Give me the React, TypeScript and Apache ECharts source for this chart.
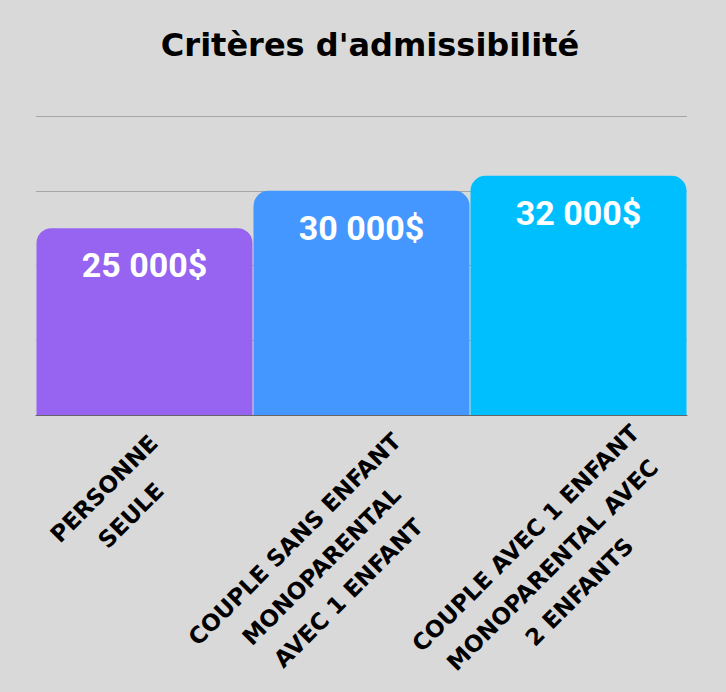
import React, { useEffect, useRef } from "react";
import * as echarts from "echarts";

const title = "Critères d'admissibilité";
const categories = [
  "PERSONNE\nSEULE",
  "COUPLE SANS ENFANT\nMONOPARENTAL\nAVEC 1 ENFANT",
  "COUPLE AVEC 1 ENFANT\nMONOPARENTAL AVEC\n2 ENFANTS",
];
const values = [25000, 30000, 32000];
const valueLabels = ["25 000$", "30 000$", "32 000$"];
const barColors = ["#9664F1", "#4497FF", "#00BFFF"];

// layout: centre of each rotated category label, relative to its tick on the baseline
const labelOffsets = [
  [-27, 87],
  [-40, 151],
  [-26, 150],
];

const SANS = "'DejaVu Sans', sans-serif";
const DIGITS = "Roboto, 'DejaVu Sans', sans-serif";

export default function App() {
  const ref = useRef<HTMLDivElement>(null);
  useEffect(() => {
    if (!ref.current) return;
    const chart = echarts.init(ref.current, undefined, { renderer: "svg" });
    chart.setOption({
      animation: false,
      backgroundColor: "#d9d9d9",
      title: {
        text: title,
        left: 365,
        textAlign: "center",
        top: 24,
        textStyle: { fontFamily: SANS, fontWeight: "bold", fontSize: 32, color: "#000" },
      },
      grid: {
        left: 36,
        right: 39,
        top: 116,
        bottom: 277,
        containLabel: false,
        outerBoundsMode: "none",
      },
      xAxis: {
        type: "category",
        data: categories,
        axisTick: { show: false },
        axisLine: { show: true, lineStyle: { color: "#666", width: 1 } },
        axisLabel: { show: false },
      },
      yAxis: {
        type: "value",
        min: 0,
        max: 40000,
        interval: 10000,
        axisLabel: { show: false },
        axisLine: { show: false },
        axisTick: { show: false },
        splitLine: { lineStyle: { color: "#a6a6a6", width: 1 } },
      },
      series: [
        {
          type: "bar",
          barWidth: 216,
          data: values.map((v, i) => ({
            value: v,
            itemStyle: { color: barColors[i], borderRadius: [15, 15, 0, 0] },
          })),
          label: {
            show: true,
            position: "insideTop",
            distance: 20,
            formatter: (p: any) => valueLabels[p.dataIndex],
            fontFamily: DIGITS,
            fontWeight: "bold",
            fontSize: 34,
            color: "#fff",
          },
        },
      ],
    });

    const baseY = chart.convertToPixel({ yAxisIndex: 0 }, 0) as number;
    chart.setOption({
      graphic: categories.map((c, i) => {
        const tx = chart.convertToPixel({ xAxisIndex: 0 }, c) as number;
        return {
          type: "text",
          x: tx + labelOffsets[i][0],
          y: baseY + labelOffsets[i][1],
          rotation: Math.PI / 4,
          silent: true,
          style: {
            text: c,
            fill: "#000",
            fontFamily: SANS,
            fontWeight: "bold",
            fontSize: 23,
            lineHeight: 38,
            align: "center",
            verticalAlign: "middle",
          },
        };
      }),
    });
    return () => chart.dispose();
  }, []);
  return (
    <div style={{ position: "fixed", left: 0, top: 0, width: 726, height: 692, background: "#d9d9d9" }}>
      <div style={{ position: "absolute", left: 0, top: 0, width: 6, height: 692, background: "#e0e0e0" }} />
      <div ref={ref} style={{ position: "absolute", left: 0, top: 0, width: 726, height: 692 }} />
    </div>
  );
}
